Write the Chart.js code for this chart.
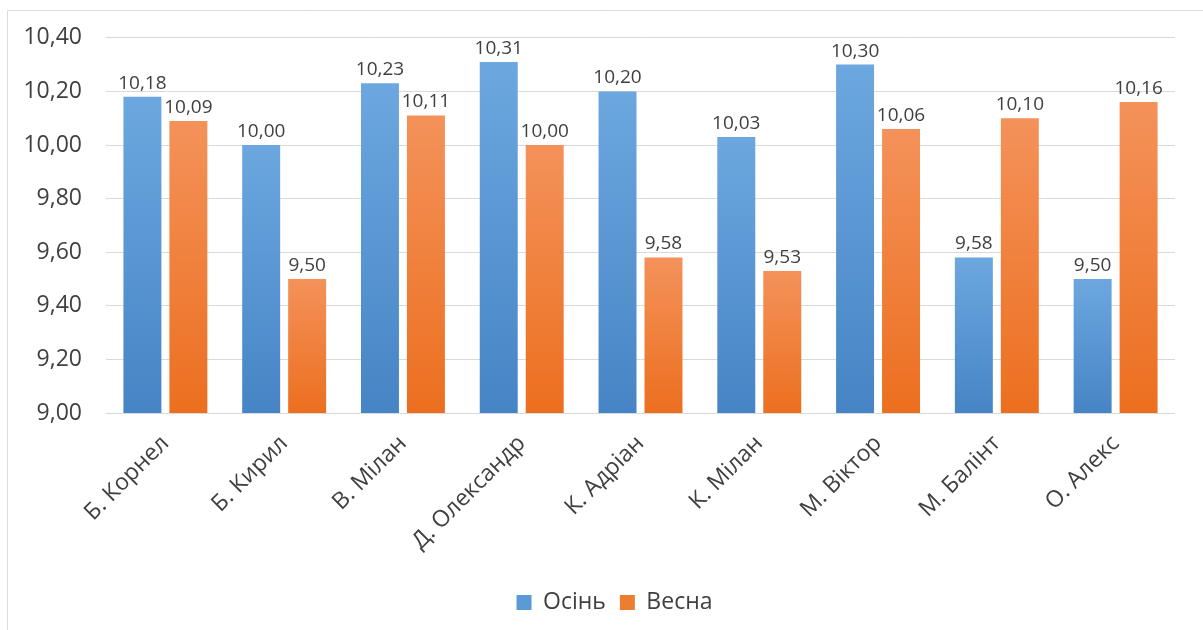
<!DOCTYPE html>
<html>
<head>
<meta charset="utf-8">
<script src="https://cdn.jsdelivr.net/npm/chart.js@4"></script>
<style>
  html, body { margin: 0; padding: 0; background: #fff; }
  #wrap { width: 1203px; height: 630px; position: relative; }
</style>
</head>
<body>
<div id="wrap"><canvas id="myChart" width="1203" height="630"></canvas></div>
<script>
// names along the x axis
var students = ['Б. Корнел', 'Б. Кирил', 'В. Мілан', 'Д. Олександр', 'К. Адріан', 'К. Мілан', 'М. Віктор', 'М. Балінт', 'О. Алекс'];
var autumn = [10.18, 10.00, 10.23, 10.31, 10.20, 10.03, 10.30, 9.58, 9.50];
var spring = [10.09, 9.50, 10.11, 10.00, 9.58, 9.53, 10.06, 10.10, 10.16];
var yTicks = [9.0, 9.2, 9.4, 9.6, 9.8, 10.0, 10.2, 10.4];

var FONT = '"Open Sans", "Noto Sans", sans-serif';

function fmt(v) {
  return v.toFixed(2).replace('.', ',');
}

// gradient per bar, lighter at the top
function barGradient(top, bottom) {
  return function (context) {
    var chart = context.chart;
    var area = chart.chartArea;
    if (!area || context.type !== 'data') return bottom;
    var ys = chart.scales.y;
    var yTop = ys.getPixelForValue(context.parsed.y);
    var yBot = ys.getPixelForValue(ys.min);
    if (!isFinite(yTop) || yBot - yTop < 1) return bottom;
    var g = chart.ctx.createLinearGradient(0, yTop, 0, yBot);
    g.addColorStop(0, top);
    g.addColorStop(1, bottom);
    return g;
  };
}

// values above each bar
var valueLabels = {
  id: 'valueLabels',
  afterDatasetsDraw: function (chart) {
    var ctx = chart.ctx;
    ctx.save();
    ctx.font = '19px ' + FONT;
    ctx.fillStyle = '#404040';
    ctx.textAlign = 'center';
    ctx.textBaseline = 'bottom';
    chart.data.datasets.forEach(function (ds, i) {
      chart.getDatasetMeta(i).data.forEach(function (bar, j) {
        ctx.fillText(fmt(ds.data[j]), bar.x, bar.y - 4);
      });
    });
    ctx.restore();
  }
};

// thin frame at top and left, like the cropped original
var frame = {
  id: 'frame',
  beforeDraw: function (chart) {
    var ctx = chart.ctx;
    ctx.save();
    ctx.strokeStyle = '#dcdcdc';
    ctx.lineWidth = 1;
    ctx.beginPath();
    ctx.moveTo(7.5, chart.height);
    ctx.lineTo(7.5, 10.5);
    ctx.lineTo(chart.width, 10.5);
    ctx.stroke();
    ctx.restore();
  }
};

// legend in the original sits a little right of the canvas centre
var legendShift = {
  id: 'legendShift',
  afterLayout: function (chart) {
    if (chart.legend) {
      chart.legend.left += 27;
      chart.legend.right += 27;
    }
  }
};

var ctx = document.getElementById('myChart').getContext('2d');

var myChart = new Chart(ctx, {
  type: 'bar',
  data: {
    labels: students,
    datasets: [{
      label: 'Осінь',
      data: autumn,
      backgroundColor: barGradient('#6ca7df', '#4684c5'),
      borderWidth: 0,
      categoryPercentage: 0.774,
      barPercentage: 0.826
    }, {
      label: 'Весна',
      data: spring,
      backgroundColor: barGradient('#f4925a', '#ec6f1f'),
      borderWidth: 0,
      categoryPercentage: 0.774,
      barPercentage: 0.826
    }]
  },
  options: {
    responsive: false,
    animation: false,
    layout: { padding: { top: 36, right: 28, bottom: 6, left: 0 } },
    scales: {
      x: {
        grid: { display: false },
        border: { display: false },
        ticks: {
          color: '#404040',
          font: { family: FONT, size: 23 },
          minRotation: 45,
          maxRotation: 45,
          autoSkip: false,
          padding: 9
        },
        afterFit: function (scale) { scale.height = 164; }
      },
      y: {
        min: 9,
        max: 10.4,
        afterBuildTicks: function (scale) {
          scale.ticks = yTicks.map(function (v) { return { value: v }; });
        },
        grid: { color: '#d9d9d9', drawTicks: false },
        border: { display: false },
        ticks: {
          color: '#404040',
          font: { family: FONT, size: 23 },
          padding: 24,
          callback: function (v) { return fmt(v); }
        },
        afterFit: function (scale) { scale.width = 106; }
      }
    },
    plugins: {
      legend: {
        position: 'bottom',
        align: 'center',
        labels: {
          color: '#404040',
          font: { family: FONT, size: 23 },
          boxWidth: 15,
          boxHeight: 15,
          padding: 14,
          generateLabels: function (chart) {
            var solid = ['#5b9bd5', '#ed7d31'];
            return chart.data.datasets.map(function (ds, i) {
              return {
                text: ds.label,
                fillStyle: solid[i],
                strokeStyle: solid[i],
                lineWidth: 0,
                hidden: false,
                datasetIndex: i,
                fontColor: '#404040'
              };
            });
          }
        }
      },
      tooltip: { enabled: false }
    }
  },
  plugins: [frame, valueLabels, legendShift]
});
</script>
</body>
</html>
